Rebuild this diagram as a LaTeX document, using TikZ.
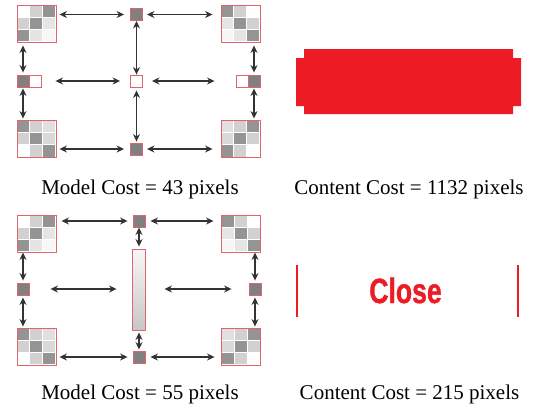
\documentclass[tikz,border=0pt]{standalone}
\usepackage{fontspec}
\setmainfont{Liberation Serif}
\newfontfamily\closefont{Liberation Sans}[FakeBold=1.2]
\usepackage{tikz}
\usetikzlibrary{arrows.meta, positioning, calc, backgrounds}
\usepackage{xcolor}
\definecolor{tilered}{RGB}{222,100,110}
\definecolor{labelred}{RGB}{237,28,36}
\newcommand{\tilecells}[2]{%
  \begin{scope}[on background layer]
  \foreach \g [count=\k from 0] in {#2} {
    \pgfmathtruncatemacro\cx{mod(\k,3)}
    \pgfmathtruncatemacro\cy{\k/3}
    \filldraw[fill=black!\g, draw=white, line width=0.6pt]
      ($(#1.north west)+(\cx*13,\cy*37/3)$) rectangle ++(13,37/3);
  }
  \end{scope}
}

\begin{document}
\begin{tikzpicture}[x=1pt, y=-1pt,
  tile/.style={draw=tilered, line width=0.9pt, minimum width=39pt, minimum height=37pt, inner sep=0pt},
  cell/.style={draw=tilered, line width=0.9pt, fill=black!50, minimum width=12pt, minimum height=12pt, inner sep=0pt},
  blank/.style={cell, fill=white},
  link/.style={{Stealth[length=7.5pt,width=7pt]}-{Stealth[length=7.5pt,width=7pt]}, draw=black!80, line width=1.3pt},
  caption/.style={anchor=base, font=\fontsize{21}{21}\selectfont}]
\useasboundingbox (0,0) rectangle (534,407);

% model with one centre block
\node[tile] (tl) at (36.5,23.5) {};
\node[tile] (tr) at (240.5,23.5) {};
\node[tile] (bl) at (36.5,139) {};
\node[tile] (br) at (240.5,139) {};
\tilecells{tl}{0,18,42,18,42,10,42,10,3}
\tilecells{tr}{42,18,0,10,42,18,3,10,42}
\tilecells{bl}{42,18,12,18,42,15,0,18,42}
\tilecells{br}{12,18,42,15,42,18,42,18,0}
\node[cell] (tm) at (136.5,14.5) {};
\node[cell] (bm) at (136.5,149) {};
\node[blank] (c) at (136.5,81) {};
\node[cell] (ml) at (23,81) {};
\node[blank, right=-0.9pt of ml] (mlw) {};
\node[cell] (mr) at (254,81) {};
\node[blank, left=-0.9pt of mr] (mrw) {};

\draw[link, shorten <=3pt, shorten >=6pt] (tl.east |- tm) -- (tm);
\draw[link, shorten <=4pt, shorten >=8pt] (tm) -- (tr.west |- tm);
\draw[link, shorten <=14pt, shorten >=10pt] (mlw) -- (c);
\draw[link, shorten <=9pt, shorten >=21pt] (c) -- (mrw);
\draw[link, shorten <=3pt, shorten >=6pt] (bl.east |- bm) -- (bm);
\draw[link, shorten <=4pt, shorten >=8pt] (bm) -- (br.west |- bm);
\draw[link, shorten <=3pt, shorten >=2pt] (tl.south -| ml) -- (ml);
\draw[link, shorten <=1pt, shorten >=1.5pt] (ml) -- (bl.north -| ml);
\draw[link, shorten <=3pt, shorten >=2pt] (tr.south -| mr) -- (mr);
\draw[link, shorten <=1pt, shorten >=1.5pt] (mr) -- (br.north -| mr);
\draw[link] (tm) -- (c);
\draw[link, shorten <=3pt, shorten >=1pt] (c) -- (bm);

\node[caption] (costa) at (140,194.5) {Model Cost = 43 pixels};
\fill[labelred] (304,49) -- (513,49) -- (513,58) -- (521,58) -- (521,106) -- (513,106)
  -- (513,114) -- (304,114) -- (304,106) -- (296,106) -- (296,58) -- (304,58) -- cycle;
\node[caption] (costb) at (409,194.5) {Content Cost = 1132 pixels};

% model with a stretched centre bar
\node[tile] (tlb) at (36.5,233.5) {};
\node[tile] (trb) at (241,233.5) {};
\node[tile] (blb) at (36.5,346.5) {};
\node[tile] (brb) at (241,346.5) {};
\tilecells{tlb}{0,18,42,18,42,10,42,10,3}
\tilecells{trb}{42,18,0,10,42,18,3,10,42}
\tilecells{blb}{42,18,12,18,42,15,0,18,42}
\tilecells{brb}{12,18,42,15,42,18,42,18,0}
\node[cell] (tmb) at (139,221) {};
\node[cell] (bmb) at (139,357) {};
\node[draw=tilered, line width=0.9pt, minimum width=13pt, minimum height=81pt, inner sep=0pt,
  top color=black!3, bottom color=black!22] (bar) at (138.5,289.5) {};
\node[cell] (mlb) at (23,289) {};
\node[cell] (mrb) at (255,289) {};

\draw[link, shorten <=5pt, shorten >=5pt] (tlb.east |- tmb) -- (tmb);
\draw[link, shorten <=5pt, shorten >=7.5pt] (tmb) -- (trb.west |- tmb);
\draw[link, shorten <=21pt, shorten >=15pt] (mlb) -- (bar.west |- mlb);
\draw[link, shorten <=19pt, shorten >=17pt] (bar.east |- mrb) -- (mrb);
\draw[link, shorten <=3pt, shorten >=5pt] (blb.east |- bmb) -- (bmb);
\draw[link, shorten <=5pt, shorten >=6.5pt] (bmb) -- (brb.west |- bmb);
\draw[link, shorten >=2pt] (tlb.south -| mlb) -- (mlb);
\draw[link, shorten <=2pt, shorten >=1pt] (mlb) -- (blb.north -| mlb);
\draw[link, shorten >=2pt] (trb.south -| mrb) -- (mrb);
\draw[link, shorten <=2pt, shorten >=1pt] (mrb) -- (brb.north -| mrb);
\draw[link, shorten >=2pt] (tmb) -- (bar.north -| tmb);
\draw[link, shorten <=2pt, shorten >=1pt] (bar.south -| bmb) -- (bmb);

\node[caption] (costc) at (140,399) {Model Cost = 55 pixels};
\draw[labelred, line width=2pt] (297,265) -- (297,317);
\draw[labelred, line width=2pt] (518,265) -- (518,317);
\node[anchor=base, labelred, xscale=0.76, inner sep=0pt,
  font=\closefont\bfseries\fontsize{35}{35}\selectfont] (close) at (405.5,303) {Close};
\node[caption] (costd) at (409.5,399) {Content Cost = 215 pixels};
\end{tikzpicture}
\end{document}
